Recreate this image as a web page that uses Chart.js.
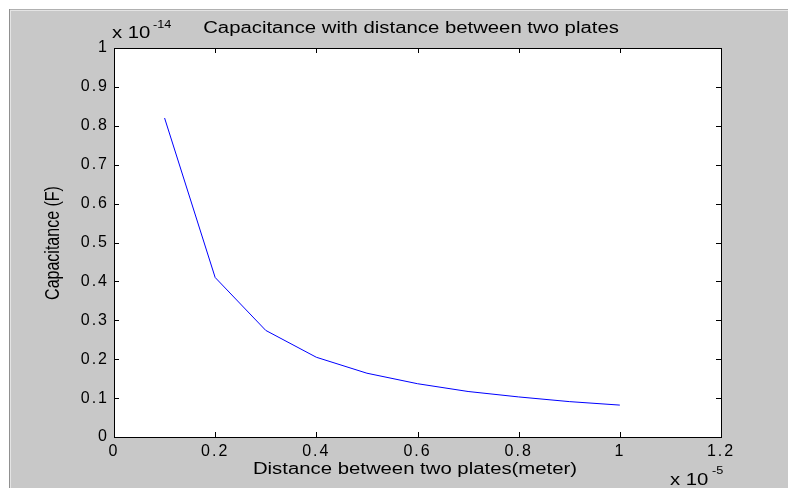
<!DOCTYPE html>
<html><head><meta charset="utf-8">
<script src="https://cdn.jsdelivr.net/npm/chart.js@4/dist/chart.umd.min.js"></script>
<style>html,body{margin:0;padding:0;background:#fff}canvas{display:block}</style>
</head><body>
<canvas id="c" width="788" height="488"></canvas>
<script>
// Data (x in units of 1e-5 m, y in units of 1e-14 F)
const distance = [0.1, 0.2, 0.3, 0.4, 0.5, 0.6, 0.7, 0.8, 0.9, 1.0];
const capacitance = [0.82, 0.41, 0.274, 0.205, 0.164, 0.137, 0.117, 0.103, 0.091, 0.082];
const xTicks = [0, 0.2, 0.4, 0.6, 0.8, 1, 1.2];
const yTicks = [0, 0.1, 0.2, 0.3, 0.4, 0.5, 0.6, 0.7, 0.8, 0.9, 1];
const titleText = 'Capacitance with distance between two plates';
const xLabel = 'Distance between two plates(meter)';
const yLabel = 'Capacitance (F)';
const xExponent = '-5';
const yExponent = '-14';

const FONT = '"Liberation Sans", Arial, sans-serif';
const STRETCH = 1.27;
const GREY = '#c8c8c8';

function fmt(v){ return String(Number(v.toFixed(2))); }

function stretchedText(ctx, text, x, y, size, align, baseline){
  ctx.save();
  ctx.letterSpacing = '0px';
  ctx.font = size + 'px ' + FONT;
  ctx.fillStyle = '#000';
  ctx.textAlign = align; ctx.textBaseline = baseline;
  ctx.translate(x, y);
  ctx.scale(STRETCH, 1);
  ctx.fillText(text, 0, 0);
  ctx.restore();
}

const decor = {
  id: 'decor',
  beforeDraw(chart){
    const ctx = chart.ctx, W = chart.width, H = chart.height, a = chart.chartArea;
    ctx.save();
    ctx.fillStyle = '#fff'; ctx.fillRect(0,0,W,H);
    ctx.fillStyle = GREY; ctx.fillRect(10,10,W-10,H-10);
    ctx.fillStyle = '#b0b0b0'; ctx.fillRect(9,9,W-9,1);
    ctx.fillStyle = '#909090'; ctx.fillRect(9,9,1,H-9);
    ctx.fillStyle = '#e4e4e4'; ctx.fillRect(10,10,W-10,1); ctx.fillRect(10,10,1,H-10);
    ctx.fillStyle = '#fff';
    ctx.fillRect(a.left, a.top, a.right-a.left, a.bottom-a.top);
    ctx.restore();
    ctx.letterSpacing = '2px';
  },
  afterDraw(chart){
    const ctx = chart.ctx, a = chart.chartArea;
    const xs = chart.scales.x, ys = chart.scales.y;
    ctx.save();
    ctx.letterSpacing = '0px';
    ctx.strokeStyle = '#000'; ctx.lineWidth = 1;
    ctx.strokeRect(Math.round(a.left)+0.5, Math.round(a.top)+0.5,
                   Math.round(a.right-a.left), Math.round(a.bottom-a.top));
    ctx.beginPath();
    xs.ticks.forEach(t => {
      const px = Math.round(xs.getPixelForValue(t.value)) + 0.5;
      ctx.moveTo(px, a.bottom); ctx.lineTo(px, a.bottom-5);
      ctx.moveTo(px, a.top); ctx.lineTo(px, a.top+5);
    });
    ys.ticks.forEach(t => {
      const py = Math.round(ys.getPixelForValue(t.value)) + 0.5;
      ctx.moveTo(a.left, py); ctx.lineTo(a.left+5, py);
      ctx.moveTo(a.right, py); ctx.lineTo(a.right-5, py);
    });
    ctx.stroke();
    ctx.restore();

    // title and axis labels
    stretchedText(ctx, titleText, 411, 29, 16, 'center', 'middle');
    stretchedText(ctx, xLabel, 415, 470, 16, 'center', 'middle');
    ctx.save();
    ctx.letterSpacing = '0px';
    ctx.font = '16px ' + FONT; ctx.fillStyle = '#000';
    ctx.textAlign = 'center'; ctx.textBaseline = 'middle';
    ctx.translate(53, 243); ctx.scale(STRETCH, 1); ctx.rotate(-Math.PI/2);
    ctx.fillText(yLabel, 0, 0);
    ctx.restore();

    // exponent multipliers
    stretchedText(ctx, 'x 10', 112, 34, 16, 'left', 'middle');
    stretchedText(ctx, yExponent, 153, 25, 10, 'left', 'middle');
    stretchedText(ctx, 'x 10', 670, 481, 16, 'left', 'middle');
    stretchedText(ctx, xExponent, 712, 471, 10, 'left', 'middle');
  }
};

new Chart(document.getElementById('c'), {
  type: 'line',
  data: {
    datasets: [{
      data: distance.map((d,i) => ({x: d, y: capacitance[i]})),
      borderColor: '#0000ff', borderWidth: 1, pointRadius: 0, tension: 0, fill: false
    }]
  },
  options: {
    responsive: false, animation: false, devicePixelRatio: 1,
    layout: { padding: { left: 0, top: 48, right: 67, bottom: 0 } },
    plugins: { legend: { display: false }, tooltip: { enabled: false }, title: { display: false } },
    scales: {
      x: {
        type: 'linear', min: 0, max: 1.2,
        afterBuildTicks: s => { s.ticks = xTicks.map(v => ({value: v})); },
        afterFit: s => { s.height = 51; },
        grid: { display: false, drawTicks: false },
        border: { display: false },
        ticks: { autoSkip: false, maxRotation: 0, padding: 5, color: '#000',
                 font: { family: FONT, size: 16 }, callback: v => fmt(v) }
      },
      y: {
        type: 'linear', min: 0, max: 1,
        afterBuildTicks: s => { s.ticks = yTicks.map(v => ({value: v})); },
        afterFit: s => { s.width = 114; },
        grid: { display: false, drawTicks: false },
        border: { display: false },
        ticks: { autoSkip: false, padding: 5, color: '#000',
                 font: { family: FONT, size: 16 }, callback: v => fmt(v) }
      }
    }
  },
  plugins: [decor]
});
</script>
</body></html>
